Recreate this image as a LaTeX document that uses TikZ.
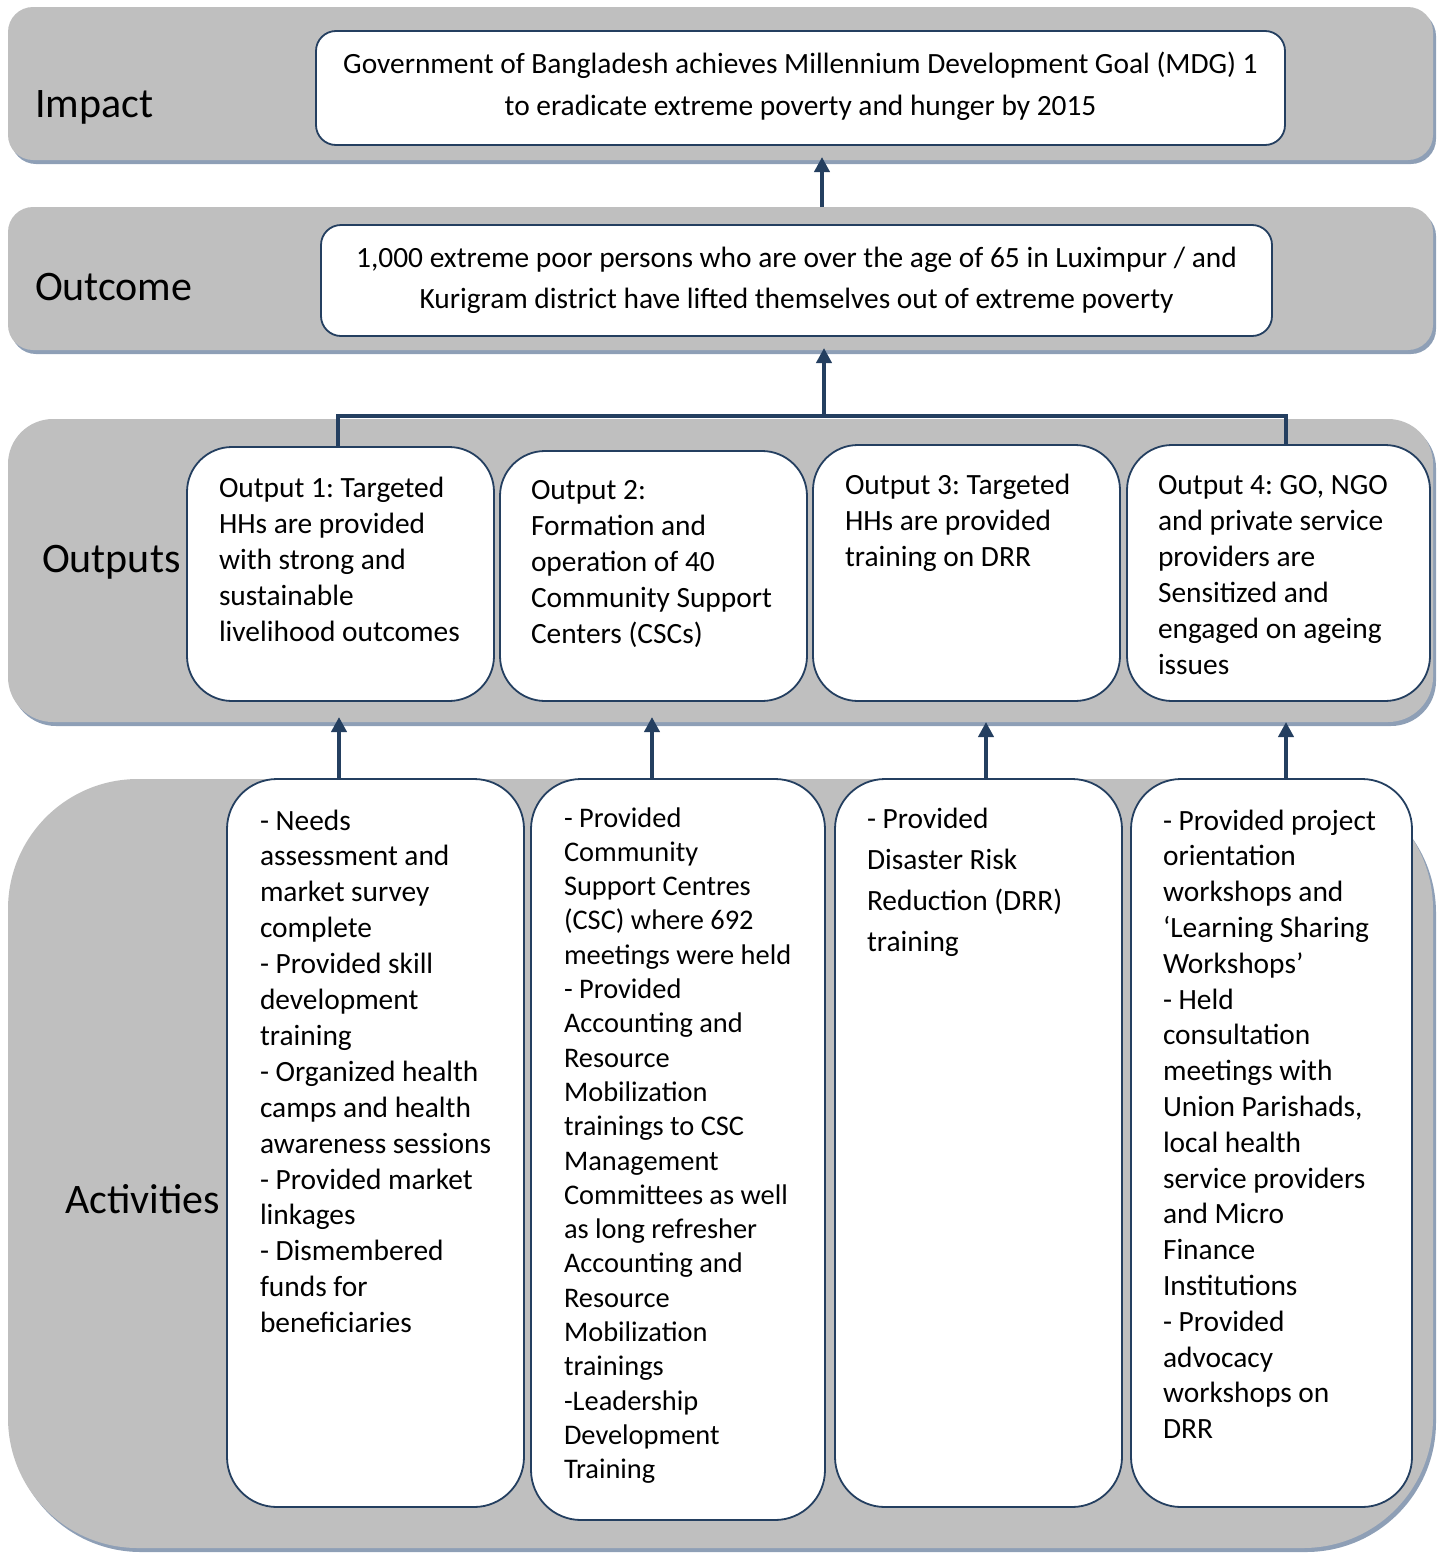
\documentclass[tikz,border=0pt]{standalone}
\usepackage{fontspec}
\setmainfont{Carlito}
\usetikzlibrary{arrows.meta,shadows}
\definecolor{bandgray}{HTML}{BFBFBF}
\definecolor{shadowc}{HTML}{8E9FB6}
\definecolor{navy}{HTML}{243F60}
\frenchspacing
\tikzset{
  band/.style={draw=none, fill=bandgray, inner sep=0pt, outer sep=0pt, anchor=north west,
    drop shadow={shadow xshift=3pt, shadow yshift=-4pt, fill=shadowc, opacity=1}},
  wbox/.style={draw=navy, line width=1.8pt, fill=white, inner sep=0pt, outer sep=0pt, anchor=north west},
  txt/.style={inner sep=0pt, outer sep=0pt, anchor=north west, align=left, text=black},
  ctxt/.style={inner sep=0pt, outer sep=0pt, anchor=north, align=center, text=black},
  lbl/.style={inner sep=0pt, outer sep=0pt, anchor=base west, text=black, font=\fontsize{42}{50}\selectfont},
  arr/.style={draw=navy, line width=4.5pt, -{Triangle[length=15pt,width=15pt]}},
  barline/.style={draw=navy, line width=4.5pt}
}
\newcommand{\fs}{\rule{0pt}{22pt}}
\begin{document}
\begin{tikzpicture}[x=1pt,y=-1pt]
\useasboundingbox (0,0) rectangle (1437,1553);
% bands
\node[band, rounded corners=25pt, minimum width=1425pt, minimum height=153pt] (impband) at (8,7) {};
\node[band, rounded corners=25pt, minimum width=1425pt, minimum height=143pt] (outcband) at (8,207) {};
\node[band, rounded corners=45pt, minimum width=1425pt, minimum height=303pt] (outpband) at (8,419) {};
\node[band, rounded corners=130pt, minimum width=1425pt, minimum height=769pt] (actband) at (8,779) {};
% labels
\node[lbl] (limp) at (35,117) {Impact};
\node[lbl] (lout) at (35,300) {Outcome};
\node[lbl] (loutp) at (42,572) {Outputs};
\node[lbl] (lact) at (65,1213) {Activities};
% impact / outcome boxes
\node[wbox, rounded corners=20pt, minimum width=969pt, minimum height=114pt] (imp) at (316,31) {};
\node[ctxt, font=\fontsize{29.4}{42}\selectfont] (impt) at (800.5,51) {\fs Government of Bangladesh achieves Millennium Development Goal (MDG) 1\\to eradicate extreme poverty and hunger by 2015};
\node[wbox, rounded corners=20pt, minimum width=951pt, minimum height=111pt] (outc) at (321,225) {};
\node[ctxt, font=\fontsize{29.4}{41}\selectfont] (outct) at (796.5,245) {\fs 1,000 extreme poor persons who are over the age of 65 in Luximpur / and\\Kurigram district have lifted themselves out of extreme poverty};
% output boxes
\node[wbox, rounded corners=45pt, minimum width=307pt, minimum height=254pt] (o1) at (187,447) {};
\node[wbox, rounded corners=45pt, minimum width=307pt, minimum height=250pt] (o2) at (500,451) {};
\node[wbox, rounded corners=45pt, minimum width=307pt, minimum height=256pt] (o3) at (813,445) {};
\node[wbox, rounded corners=45pt, minimum width=303pt, minimum height=256pt] (o4) at (1127,445) {};
\node[txt, font=\fontsize{29.4}{36}\selectfont] (o1t) at (219,475) {\fs Output 1: Targeted\\HHs are provided\\with strong and\\sustainable\\livelihood outcomes};
\node[txt, font=\fontsize{29.4}{36}\selectfont] (o2t) at (531,477) {\fs Output 2:\\Formation and\\operation of 40\\Community Support\\Centers (CSCs)};
\node[txt, font=\fontsize{29.4}{36}\selectfont] (o3t) at (845,472) {\fs Output 3: Targeted\\HHs are provided\\training on DRR};
\node[txt, font=\fontsize{29.4}{36}\selectfont] (o4t) at (1158,472) {\fs Output 4: GO, NGO\\and private service\\providers are\\Sensitized and\\engaged on ageing\\issues};
% activity boxes
\node[wbox, rounded corners=50pt, minimum width=297pt, minimum height=728pt] (a1) at (227,779) {};
\node[wbox, rounded corners=50pt, minimum width=294pt, minimum height=741pt] (a2) at (531,779) {};
\node[wbox, rounded corners=50pt, minimum width=287pt, minimum height=728pt] (a3) at (835,779) {};
\node[wbox, rounded corners=50pt, minimum width=281pt, minimum height=728pt] (a4) at (1131,779) {};
\node[txt, font=\fontsize{29.4}{35.9}\selectfont] (a1t) at (260,808) {\fs - Needs\\assessment and\\market survey\\complete\\- Provided skill\\development\\training\\- Organized health\\camps and health\\awareness sessions\\- Provided market\\linkages\\- Dismembered\\funds for\\beneficiaries};
\node[txt, font=\fontsize{28.4}{34.3}\selectfont] (a2t) at (564,805) {\fs - Provided\\Community\\Support Centres\\(CSC) where 692\\meetings were held\\- Provided\\Accounting and\\Resource\\Mobilization\\trainings to CSC\\Management\\Committees as well\\as long refresher\\Accounting and\\Resource\\Mobilization\\trainings\\-Leadership\\Development\\Training};
\node[txt, font=\fontsize{29.4}{41.3}\selectfont] (a3t) at (867,806) {\fs - Provided\\Disaster Risk\\Reduction (DRR)\\training};
\node[txt, font=\fontsize{29.4}{35.8}\selectfont] (a4t) at (1163,808) {\fs - Provided project\\orientation\\workshops and\\‘Learning Sharing\\Workshops’\\- Held\\consultation\\meetings with\\Union Parishads,\\local health\\service providers\\and Micro\\Finance\\Institutions\\- Provided\\advocacy\\workshops on\\DRR};
% connectors
\coordinate (c0) at (822,0);
\draw[arr] (c0 |- outcband.north) -- ([yshift=3pt]c0 |- impband.south);
\coordinate (t1) at (338,416);
\coordinate (tm) at (824,416);
\coordinate (t4) at (1286,416);
\draw[barline] (t1 |- o1.north) -- (t1) -- (t4) -- (t4 |- o4.north);
\draw[arr] (tm) -- ([yshift=2pt]tm |- outcband.south);
\coordinate (p1) at (339,0);
\coordinate (p2) at (652,0);
\coordinate (p3) at (986,0);
\coordinate (p4) at (1286,0);
\draw[arr] (p1 |- a1.north) -- ([yshift=5pt]p1 |- outpband.south);
\draw[arr] (p2 |- a2.north) -- ([yshift=5pt]p2 |- outpband.south);
\draw[arr] (p3 |- a3.north) -- ([yshift=0pt]p3 |- outpband.south);
\draw[arr] (p4 |- a4.north) -- ([yshift=0pt]p4 |- outpband.south);
\end{tikzpicture}
\end{document}
